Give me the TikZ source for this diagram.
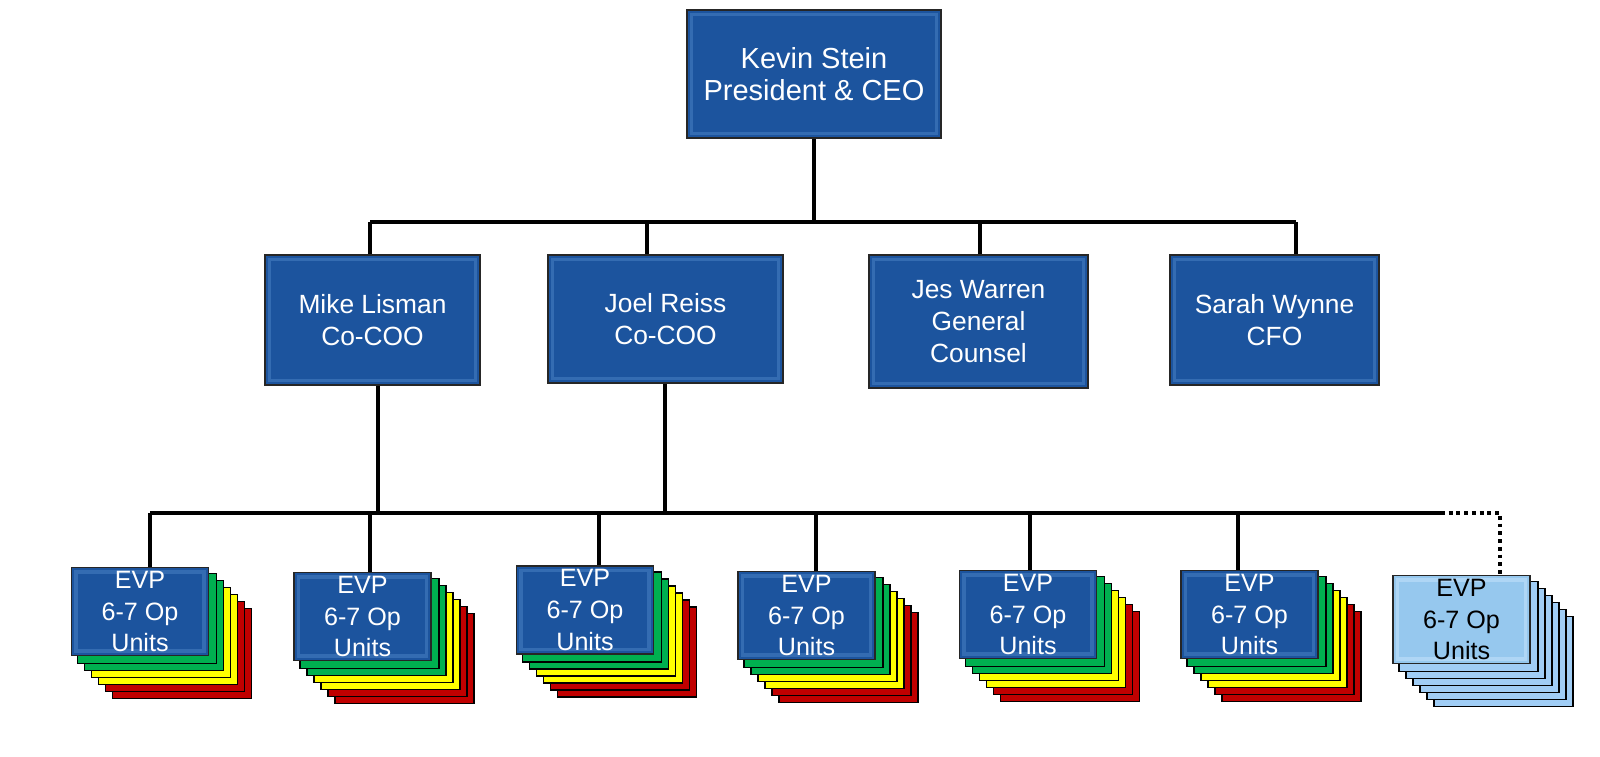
\documentclass[tikz,border=0pt]{standalone}
\usepackage{fontspec}
\setmainfont{Liberation Sans}
\usepackage{xcolor}
\usepackage{tikz}
\usetikzlibrary{positioning,backgrounds,calc}

\definecolor{orgblue}{RGB}{28,84,158}
\definecolor{bevelblue}{RGB}{52,108,178}
\definecolor{evplight}{RGB}{150,200,238}
\definecolor{bevellight}{RGB}{175,214,245}
\definecolor{stackgreen}{RGB}{0,176,80}
\definecolor{stackyellow}{RGB}{255,255,0}
\definecolor{stackred}{RGB}{192,0,0}
\definecolor{stackblue}{RGB}{160,205,245}

\begin{document}
\begin{tikzpicture}[x=0.02cm, y=-0.02cm,
    orgbox/.style={rectangle, draw=black!85, line width=1pt, fill=orgblue, text=white, align=center, inner sep=0pt,
      font=\fontsize{15}{18}\selectfont,
      path picture={\draw[bevelblue, line width=2pt] ([shift={(2.5pt,-2.5pt)}]path picture bounding box.north west) rectangle ([shift={(-2.5pt,2.5pt)}]path picture bounding box.south east);}},
    ceobox/.style={orgbox, minimum width=5.08cm, minimum height=2.56cm, font=\fontsize{16.5}{18.5}\selectfont},
    evpbox/.style={orgbox, minimum width=2.74cm, minimum height=1.76cm, font=\fontsize{14.3}{18}\selectfont},
    evplast/.style={evpbox, fill=evplight, text=black,
      path picture={\draw[bevellight, line width=2pt] ([shift={(2.5pt,-2.5pt)}]path picture bounding box.north west) rectangle ([shift={(-2.5pt,2.5pt)}]path picture bounding box.south east);}},
    stackcard/.style={draw=black, line width=0.8pt},
    orgline/.style={draw=black, line width=2.2pt},
    dotline/.style={orgline, dash pattern=on 2.2pt off 2.2pt}
  ]
    \useasboundingbox (0,0) rectangle (1600,757);

    % top and second row
    \node[ceobox] (ceo) at (814,74) {Kevin Stein\\President \& CEO};
    \node[orgbox, minimum width=4.3cm, minimum height=2.6cm] (mike) at (372.5,320) {Mike Lisman\\Co-COO};
    \node[orgbox, minimum width=4.7cm, minimum height=2.56cm] (joel) at (665.5,319) {Joel Reiss\\Co-COO};
    \node[orgbox, minimum width=4.38cm, minimum height=2.66cm] (jes) at (978.5,321.5) {Jes Warren\\General\\Counsel};
    \node[orgbox, minimum width=4.18cm, minimum height=2.6cm] (sarah) at (1274.5,320) {Sarah Wynne\\CFO};

    % EVP row
    \node[evpbox] (evp1) at (140,611.5) {EVP\\6-7 Op\\Units};
    \node[evpbox] (evp2) at (362.5,616.5) {EVP\\6-7 Op\\Units};
    \node[evpbox] (evp3) at (585,610) {EVP\\6-7 Op\\Units};
    \node[evpbox] (evp4) at (806.5,615.5) {EVP\\6-7 Op\\Units};
    \node[evpbox] (evp5) at (1028,614.5) {EVP\\6-7 Op\\Units};
    \node[evpbox] (evp6) at (1249.5,614.5) {EVP\\6-7 Op\\Units};
    \node[evplast] (evp7) at (1461.5,619.5) {EVP\\6-7 Op\\Units};

    % stacked cards behind the EVP boxes
    \begin{scope}[on background layer]
      \foreach \b in {evp1,evp2,evp3,evp4,evp5,evp6}
        \foreach \k/\col in {6/stackred,5/stackred,4/stackyellow,3/stackyellow,2/stackgreen,1/stackgreen}
          \draw[stackcard, fill=\col] ([shift={(7*\k,7*\k)}]\b.north west) rectangle ([shift={(7*\k,7*\k)}]\b.south east);
      \foreach \k in {6,...,1}
        \draw[stackcard, fill=stackblue] ([shift={(7*\k,7*\k)}]evp7.north west) rectangle ([shift={(7*\k,7*\k)}]evp7.south east);
    \end{scope}

    % upper bus
    \coordinate (tapmike) at (370,222);
    \coordinate (tapjoel) at (647,222);
    \coordinate (tapjes) at (980,222);
    \coordinate (tapsarah) at (1296,222);
    \draw[orgline] (ceo.south) -- (ceo.south |- tapmike);
    \draw[orgline] (tapmike) -- (tapsarah);
    \draw[orgline] (tapmike) -- (tapmike |- mike.north);
    \draw[orgline] (tapjoel) -- (tapjoel |- joel.north);
    \draw[orgline] (tapjes) -- (tapjes |- jes.north);
    \draw[orgline] (tapsarah) -- (tapsarah |- sarah.north);

    % lower bus
    \coordinate (downmike) at (378,513);
    \coordinate (downjoel) at (665,513);
    \coordinate (tap1) at (150,513);
    \coordinate (tap2) at (370,513);
    \coordinate (tap3) at (599,513);
    \coordinate (tap4) at (816,513);
    \coordinate (tap5) at (1030,513);
    \coordinate (tap6) at (1238,513);
    \coordinate (dotstart) at (1441,513);
    \coordinate (tap7) at (1500,513);
    \draw[orgline] (downmike |- mike.south) -- (downmike);
    \draw[orgline] (downjoel |- joel.south) -- (downjoel);
    \draw[orgline] (tap1) -- (dotstart);
    \draw[dotline] (dotstart) -- (tap7) -- (tap7 |- evp7.north);
    \draw[orgline] (tap1) -- (tap1 |- evp1.north);
    \draw[orgline] (tap2) -- (tap2 |- evp2.north);
    \draw[orgline] (tap3) -- (tap3 |- evp3.north);
    \draw[orgline] (tap4) -- (tap4 |- evp4.north);
    \draw[orgline] (tap5) -- (tap5 |- evp5.north);
    \draw[orgline] (tap6) -- (tap6 |- evp6.north);
  \end{tikzpicture}
\end{document}
